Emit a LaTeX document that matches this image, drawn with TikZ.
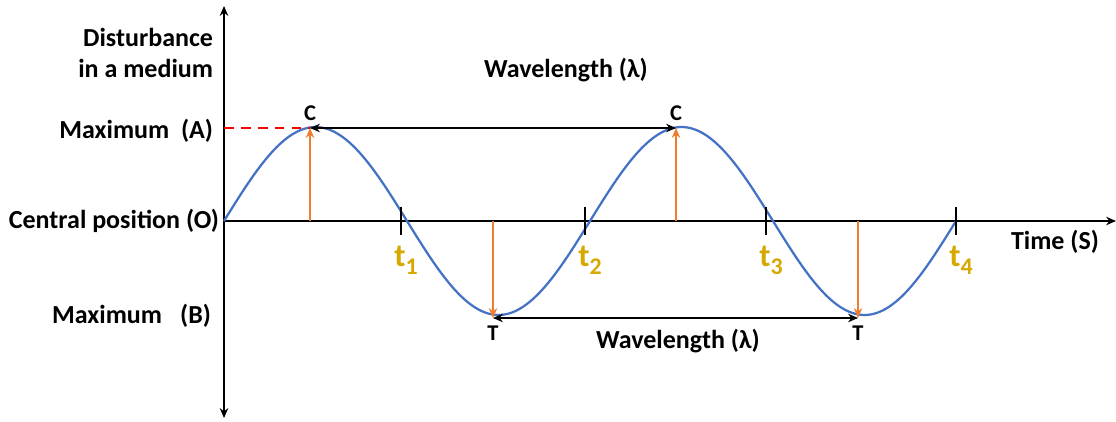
\documentclass[tikz,border=0pt]{standalone}
\usepackage{fontspec}
\setmainfont{Carlito}
\usepackage{tikz}
\usetikzlibrary{calc, positioning, arrows.meta}
\usepackage{xcolor}
\definecolor{waveBlue}{RGB}{68, 114, 196}
\definecolor{ampOrange}{RGB}{237, 125, 49}
\definecolor{timeGold}{RGB}{214, 168, 0}

\begin{document}
\begin{tikzpicture}[>={Stealth[length=7pt, width=6pt]}, x=0.025cm, y=-0.025cm, font=\bfseries\fontsize{18.5}{21}\selectfont]
  \useasboundingbox (0,0) rectangle (1116,421);

  % Axes
  \coordinate (o) at (224, 221);
  \coordinate (ytop) at (224, 6);
  \coordinate (ybot) at (224, 418);
  \coordinate (xend) at (1116, 221);
  \draw[->, line width=2pt] (o) -- (ytop);
  \draw[->, line width=2pt] (o) -- (ybot);
  \draw[->, line width=2pt] (o) -- (xend);

  % Crests, troughs and zero crossings
  \coordinate (c1) at (310, 128);
  \coordinate (c2) at (676, 128);
  \coordinate (tr1) at (493, 318);
  \coordinate (tr2) at (858, 318);
  \coordinate (f1) at (310, 221);
  \coordinate (f2) at (493, 221);
  \coordinate (f3) at (676, 221);
  \coordinate (f4) at (858, 221);

  % Wave
  \draw[waveBlue, line width=1.6pt] plot[domain=224:956, samples=120, smooth]
    (\x, {221 - 94*sin(((\x-224)/366)*360)});

  % Ticks
  \foreach \tx/\lab [count=\i] in {401/1, 585/2, 766/3, 956/4} {
    \draw[line width=2pt] (\tx, 207) -- (\tx, 235);
    \node[timeGold, font=\bfseries\fontsize{23}{26}\selectfont] (t\i) at (\tx+5, 260) {t\raisebox{-0.5ex}{\fontsize{17}{19}\selectfont\lab}};
  }

  % Orange amplitude arrows
  \draw[->, ampOrange, line width=1.4pt] (f1) -- (c1);
  \draw[->, ampOrange, line width=1.4pt] (f2) -- (tr1);
  \draw[->, ampOrange, line width=1.4pt] (f3) -- (c2);
  \draw[->, ampOrange, line width=1.4pt] (f4) -- (tr2);

  % Wavelength arrows
  \draw[<->, line width=1.6pt] (c1) -- (c2);
  \draw[<->, line width=1.6pt] (tr1) -- (tr2);
  \draw[red, dash pattern=on 7pt off 5pt, line width=1.6pt] (224, 128) -- (c1);

  % Labels
  \node[above=2pt of c1, font=\bfseries\fontsize{16}{18}\selectfont] (lc1) {C};
  \node[above=2pt of c2, font=\bfseries\fontsize{16}{18}\selectfont] (lc2) {C};
  \node[below=2pt of tr1, font=\bfseries\fontsize{16}{18}\selectfont] (lt1) {T};
  \node[below=2pt of tr2, font=\bfseries\fontsize{16}{18}\selectfont] (lt2) {T};
  \node (wl1) at (566, 70) {Wavelength (λ)};
  \node (wl2) at (678, 341) {Wavelength (λ)};

  \node[anchor=east, align=right, font=\bfseries\fontsize{18.5}{21.5}\selectfont] (dist) at (218, 53) {Disturbance\\in a medium};
  \node[anchor=east] (maxA) at (218, 131) {Maximum\ \ (A)};
  \node[anchor=east] (cent) at (224, 221) {Central position (O)};
  \node[anchor=east] (maxB) at (216, 316) {Maximum\hspace{0.7em}(B)};
  \node (time) at (1055, 242) {Time (S)};
\end{tikzpicture}
\end{document}
